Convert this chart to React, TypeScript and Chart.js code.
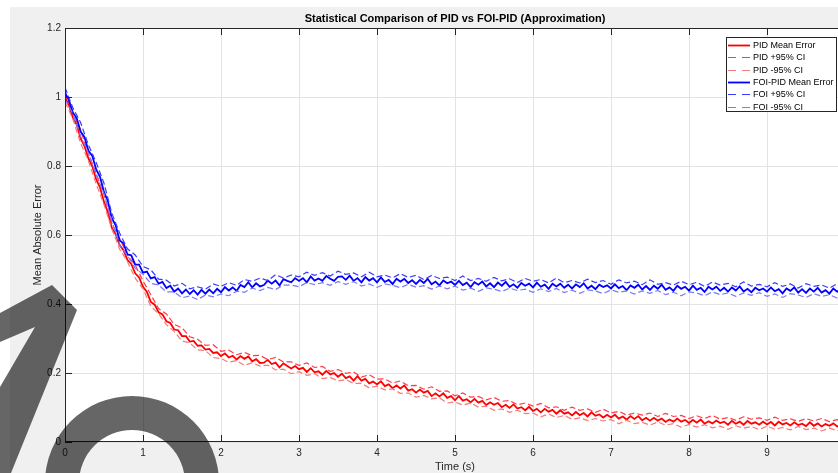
import React, { useEffect, useRef } from 'react';
import { Chart, registerables } from 'chart.js';

Chart.register(...registerables);

const FONT = '"Liberation Sans", Arial, Helvetica, sans-serif';

const chartTitle = 'Statistical Comparison of PID vs FOI-PID (Approximation)';
const xTitle = 'Time (s)';
const yTitle = 'Mean Absolute Error';
const seriesLabels = ['PID Mean Error', 'PID +95% CI', 'PID -95% CI', 'FOI-PID Mean Error', 'FOI +95% CI', 'FOI -95% CI'];
const xTickValues = [0, 1, 2, 3, 4, 5, 6, 7, 8, 9, 10];
const yTickValues = [0, 0.2, 0.4, 0.6, 0.8, 1, 1.2];

// time samples: mean curves every 0.05 s, confidence bounds every 0.1 s
const tFine = Array.from({ length: 201 }, (_, i) => Math.round(i * 5) / 100);
const tCoarse = Array.from({ length: 101 }, (_, i) => i / 10);

const pidMean = [
  1.000, 0.976, 0.941, 0.920, 0.880, 0.858, 0.822, 0.799, 0.761, 0.737,
  0.696, 0.666, 0.621, 0.602, 0.571, 0.556, 0.528, 0.516, 0.489, 0.477,
  0.450, 0.435, 0.406, 0.398, 0.376, 0.370, 0.350, 0.345, 0.326, 0.324,
  0.307, 0.307, 0.291, 0.293, 0.279, 0.280, 0.268, 0.270, 0.258, 0.260,
  0.249,
  0.257, 0.245, 0.250, 0.239, 0.249, 0.241, 0.248, 0.234, 0.240, 0.229,
  0.230, 0.238, 0.226, 0.230, 0.216, 0.228, 0.220, 0.213, 0.220, 0.211,
  0.215, 0.203, 0.214, 0.202, 0.205, 0.195, 0.206, 0.196, 0.200, 0.189,
  0.198, 0.185, 0.190, 0.178, 0.191, 0.178, 0.183, 0.170, 0.175, 0.167,
  0.176, 0.162, 0.167, 0.156, 0.164, 0.155, 0.164, 0.149, 0.153, 0.143,
  0.152, 0.143, 0.148, 0.133, 0.141, 0.132, 0.141, 0.128, 0.133, 0.121,
  0.133, 0.120, 0.124, 0.115, 0.125, 0.114, 0.119, 0.107, 0.115, 0.108,
  0.113, 0.101, 0.108, 0.099, 0.109, 0.097, 0.101, 0.092, 0.102, 0.090,
  0.096, 0.086, 0.096, 0.088, 0.093, 0.082, 0.092, 0.082, 0.086, 0.077,
  0.087, 0.078, 0.084, 0.074, 0.086, 0.076, 0.080, 0.071, 0.079, 0.071,
  0.079, 0.068, 0.074, 0.065, 0.075, 0.067, 0.075, 0.063, 0.070, 0.062,
  0.070, 0.062, 0.068, 0.058, 0.065, 0.059, 0.068, 0.059, 0.064, 0.055,
  0.064, 0.056, 0.065, 0.053, 0.060, 0.054, 0.062, 0.055, 0.059, 0.050,
  0.061, 0.053, 0.059, 0.050, 0.061, 0.053, 0.057, 0.050, 0.059, 0.051,
  0.058, 0.048, 0.059, 0.051, 0.055, 0.048, 0.057, 0.049, 0.053, 0.046,
  0.057, 0.047, 0.054, 0.045, 0.052, 0.047, 0.054, 0.045, 0.050, 0.045,
];

const pidUpper = [
  1.016, 0.954, 0.904, 0.836, 0.778, 0.718, 0.633, 0.590, 0.542, 0.513,
  0.467, 0.427, 0.387, 0.371, 0.341, 0.331, 0.305, 0.298, 0.280, 0.282,
  0.263, 0.266, 0.253, 0.260, 0.250, 0.251, 0.239, 0.245, 0.232, 0.232,
  0.222, 0.229, 0.216, 0.219, 0.205, 0.210, 0.199, 0.203, 0.188, 0.195,
  0.182, 0.183, 0.171, 0.177, 0.163, 0.164, 0.153, 0.160, 0.147, 0.148,
  0.134, 0.142, 0.130, 0.132, 0.122, 0.129, 0.118, 0.120, 0.108, 0.113,
  0.104, 0.112, 0.099, 0.102, 0.092, 0.101, 0.092, 0.096, 0.086, 0.095,
  0.084, 0.089, 0.078, 0.084, 0.078, 0.084, 0.074, 0.083, 0.074, 0.077,
  0.068, 0.076, 0.068, 0.077, 0.066, 0.071, 0.063, 0.073, 0.066, 0.070,
  0.063, 0.072, 0.063, 0.067, 0.060, 0.068, 0.061, 0.068, 0.059, 0.065,
  0.057,
];

const pidLower = [
  0.985, 0.937, 0.866, 0.815, 0.748, 0.688, 0.618, 0.559, 0.523, 0.475,
  0.444, 0.393, 0.372, 0.340, 0.320, 0.293, 0.287, 0.267, 0.265, 0.245,
  0.242, 0.231, 0.236, 0.222, 0.230, 0.220, 0.223, 0.209, 0.211, 0.198,
  0.204, 0.193, 0.198, 0.184, 0.187, 0.177, 0.181, 0.170, 0.170, 0.157,
  0.162, 0.151, 0.154, 0.141, 0.142, 0.130, 0.135, 0.125, 0.128, 0.113,
  0.116, 0.107, 0.113, 0.101, 0.104, 0.092, 0.096, 0.086, 0.092, 0.082,
  0.084, 0.073, 0.081, 0.071, 0.077, 0.066, 0.070, 0.062, 0.068, 0.061,
  0.065, 0.053, 0.063, 0.053, 0.057, 0.049, 0.058, 0.049, 0.053, 0.043,
  0.051, 0.043, 0.050, 0.041, 0.046, 0.037, 0.047, 0.040, 0.045, 0.036,
  0.046, 0.037, 0.042, 0.035, 0.045, 0.036, 0.040, 0.032, 0.040, 0.033,
  0.037,
];

const foiMean = [
  1.012, 0.991, 0.955, 0.939, 0.900, 0.884, 0.844, 0.829, 0.790, 0.768,
  0.724, 0.698, 0.649, 0.628, 0.584, 0.576, 0.544, 0.541, 0.514, 0.514,
  0.491, 0.494, 0.474, 0.478, 0.459, 0.464, 0.446, 0.453, 0.436, 0.445,
  0.431, 0.442, 0.429, 0.440, 0.427, 0.441, 0.430, 0.442, 0.431, 0.444,
  0.434,
  0.449, 0.439, 0.448, 0.438, 0.455, 0.449, 0.463, 0.448, 0.460, 0.451,
  0.455, 0.468, 0.459, 0.468, 0.454, 0.472, 0.467, 0.463, 0.475, 0.467,
  0.475, 0.463, 0.480, 0.468, 0.474, 0.467, 0.481, 0.473, 0.467, 0.479,
  0.480, 0.470, 0.482, 0.467, 0.475, 0.463, 0.478, 0.468, 0.475, 0.463,
  0.477, 0.464, 0.470, 0.458, 0.473, 0.465, 0.473, 0.461, 0.469, 0.458,
  0.470, 0.461, 0.473, 0.457, 0.465, 0.454, 0.468, 0.460, 0.465, 0.455,
  0.467, 0.455, 0.462, 0.449, 0.463, 0.456, 0.465, 0.451, 0.460, 0.449,
  0.462, 0.453, 0.464, 0.450, 0.457, 0.447, 0.461, 0.453, 0.459, 0.448,
  0.462, 0.450, 0.456, 0.444, 0.459, 0.451, 0.459, 0.447, 0.456, 0.445,
  0.457, 0.449, 0.460, 0.445, 0.453, 0.443, 0.456, 0.449, 0.454, 0.445,
  0.457, 0.446, 0.452, 0.440, 0.454, 0.447, 0.456, 0.442, 0.452, 0.441,
  0.453, 0.444, 0.456, 0.441, 0.448, 0.438, 0.453, 0.444, 0.450, 0.439,
  0.453, 0.441, 0.447, 0.435, 0.450, 0.442, 0.450, 0.438, 0.447, 0.436,
  0.448, 0.439, 0.451, 0.436, 0.444, 0.434, 0.447, 0.440, 0.445, 0.436,
  0.448, 0.437, 0.443, 0.431, 0.445, 0.438, 0.448, 0.433, 0.443, 0.432,
  0.445, 0.436, 0.447, 0.433, 0.440, 0.430, 0.445, 0.436, 0.442, 0.431,
];

const foiUpper = [
  1.028, 0.969, 0.926, 0.861, 0.810, 0.750, 0.663, 0.606, 0.560, 0.542,
  0.509, 0.499, 0.472, 0.469, 0.452, 0.460, 0.444, 0.450, 0.443, 0.458,
  0.451, 0.462, 0.454, 0.471, 0.466, 0.475, 0.468, 0.485, 0.475, 0.484,
  0.479, 0.492, 0.483, 0.491, 0.481, 0.495, 0.486, 0.490, 0.479, 0.492,
  0.479, 0.484, 0.476, 0.488, 0.477, 0.483, 0.471, 0.483, 0.474, 0.478,
  0.468, 0.481, 0.468, 0.474, 0.466, 0.477, 0.467, 0.473, 0.462, 0.474,
  0.466, 0.471, 0.461, 0.475, 0.462, 0.468, 0.461, 0.472, 0.462, 0.468,
  0.457, 0.470, 0.461, 0.466, 0.456, 0.470, 0.457, 0.462, 0.455, 0.466,
  0.456, 0.463, 0.451, 0.464, 0.455, 0.460, 0.450, 0.464, 0.452, 0.457,
  0.450, 0.462, 0.451, 0.458, 0.446, 0.459, 0.451, 0.455, 0.446, 0.459,
  0.447,
];

const foiLower = [
  0.993, 0.952, 0.886, 0.838, 0.774, 0.720, 0.642, 0.570, 0.541, 0.504,
  0.486, 0.460, 0.455, 0.435, 0.435, 0.418, 0.423, 0.413, 0.426, 0.421,
  0.429, 0.424, 0.437, 0.434, 0.446, 0.439, 0.448, 0.442, 0.455, 0.455,
  0.450, 0.462, 0.456, 0.462, 0.454, 0.465, 0.457, 0.465, 0.452, 0.458,
  0.448, 0.458, 0.454, 0.447, 0.457, 0.449, 0.453, 0.443, 0.452, 0.444,
  0.452, 0.440, 0.446, 0.437, 0.447, 0.443, 0.436, 0.446, 0.439, 0.443,
  0.434, 0.444, 0.436, 0.445, 0.433, 0.440, 0.431, 0.441, 0.438, 0.430,
  0.441, 0.434, 0.438, 0.429, 0.438, 0.431, 0.439, 0.427, 0.434, 0.424,
  0.435, 0.432, 0.424, 0.435, 0.427, 0.432, 0.422, 0.432, 0.425, 0.433,
  0.422, 0.429, 0.419, 0.430, 0.426, 0.419, 0.430, 0.422, 0.427, 0.417,
  0.427,
];

const toPoints = (t: number[], v: number[]) => v.map((y, i) => ({ x: t[i], y }));

const decorPlugin = {
  id: 'matlabDecor',
  beforeDraw(chart: any) {
    const { ctx, chartArea: a } = chart;
    ctx.save();
    ctx.fillStyle = '#ffffff';
    ctx.fillRect(0, 0, chart.width, chart.height);
    ctx.fillStyle = '#f0f0f0';
    ctx.fillRect(10, 7, chart.width - 10, chart.height - 7);
    ctx.fillStyle = '#ffffff';
    ctx.fillRect(a.left, a.top, a.right - a.left, a.bottom - a.top);
    ctx.restore();
  },
  afterDatasetsDraw(chart: any) {
    const { ctx, chartArea: a, scales } = chart;
    const xs = scales.x;
    const ys = scales.y;
    ctx.save();
    ctx.strokeStyle = '#262626';
    ctx.lineWidth = 1;
    ctx.beginPath();
    ctx.moveTo(a.left + 0.5, a.top + 0.5);
    ctx.lineTo(a.right - 0.5, a.top + 0.5);
    ctx.lineTo(a.right - 0.5, a.bottom - 0.5);
    ctx.lineTo(a.left + 0.5, a.bottom - 0.5);
    ctx.closePath();
    ctx.stroke();
    const tl = 7;
    ctx.beginPath();
    xTickValues.forEach((v) => {
      const px = Math.round(xs.getPixelForValue(v)) + 0.5;
      ctx.moveTo(px, a.bottom);
      ctx.lineTo(px, a.bottom - tl);
      ctx.moveTo(px, a.top);
      ctx.lineTo(px, a.top + tl);
    });
    yTickValues.forEach((v) => {
      const py = Math.round(ys.getPixelForValue(v)) + 0.5;
      ctx.moveTo(a.left, py);
      ctx.lineTo(a.left + tl, py);
      ctx.moveTo(a.right, py);
      ctx.lineTo(a.right - tl, py);
    });
    ctx.stroke();
    ctx.restore();
  },
  afterDraw(chart: any) {
    const { ctx, chartArea: a } = chart;
    const cx = (a.left + a.right) / 2;
    ctx.save();
    // title
    ctx.fillStyle = '#000000';
    ctx.font = `bold 11px ${FONT}`;
    ctx.textAlign = 'center';
    ctx.textBaseline = 'middle';
    ctx.fillText(chartTitle, cx, 19);
    // axis titles
    ctx.fillStyle = '#262626';
    ctx.font = `11px ${FONT}`;
    ctx.fillText(xTitle, cx, 467);
    ctx.save();
    ctx.translate(38, (a.top + a.bottom) / 2);
    ctx.rotate(-Math.PI / 2);
    ctx.fillText(yTitle, 0, 0);
    ctx.restore();

    // legend box
    const lx = 726;
    const ly = 37;
    const lw = 111;
    const lh = 75;
    ctx.fillStyle = '#ffffff';
    ctx.fillRect(lx, ly, lw, lh);
    ctx.strokeStyle = '#262626';
    ctx.lineWidth = 1;
    ctx.strokeRect(lx + 0.5, ly + 0.5, lw - 1, lh - 1);
    chart.data.datasets.forEach((ds: any, i: number) => {
      const yy = Math.round(ly + 8 + i * 12.3) + 0.5;
      ctx.save();
      ctx.setLineDash(ds.borderDash ? [8, 6] : []);
      ctx.strokeStyle = ds.borderColor;
      ctx.lineWidth = ds.borderDash ? 1.2 : 1.8;
      ctx.beginPath();
      ctx.moveTo(lx + 2, yy);
      ctx.lineTo(lx + 24, yy);
      ctx.stroke();
      ctx.restore();
      ctx.fillStyle = '#000000';
      ctx.font = `9px ${FONT}`;
      ctx.textAlign = 'left';
      ctx.textBaseline = 'middle';
      ctx.fillText(ds.label, lx + 27, yy);
    });

    // dark overlay shapes present in the reference image
    ctx.fillStyle = 'rgba(0,0,0,0.6)';
    ctx.beginPath();
    ctx.moveTo(0, 313);
    ctx.lineTo(52, 285);
    ctx.lineTo(77, 310);
    ctx.lineTo(11, 473);
    ctx.lineTo(0, 473);
    ctx.lineTo(0, 387);
    ctx.lineTo(35, 327);
    ctx.lineTo(0, 342);
    ctx.closePath();
    ctx.fill();
    ctx.beginPath();
    ctx.arc(132, 483, 87, 0, Math.PI * 2);
    ctx.moveTo(132 + 53, 483);
    ctx.arc(132, 483, 53, 0, Math.PI * 2);
    ctx.fill('evenodd');
    ctx.restore();
  },
};

const fmtTick = (v: any) => String(Math.round(Number(v) * 10) / 10);

export default function App() {
  const ref = useRef<HTMLCanvasElement>(null);

  useEffect(() => {
    const canvas = ref.current;
    if (!canvas) return;
    const chart = new Chart(canvas, {
      type: 'line',
      data: {
        datasets: [
          { label: seriesLabels[0], data: toPoints(tFine, pidMean), borderColor: '#ff0000', borderWidth: 1.8, order: 6 },
          { label: seriesLabels[1], data: toPoints(tCoarse, pidUpper), borderColor: '#ff3a4a', borderWidth: 1.2, borderDash: [6, 3], order: 5 },
          { label: seriesLabels[2], data: toPoints(tCoarse, pidLower), borderColor: '#f57a7a', borderWidth: 1.2, borderDash: [6, 3], order: 4 },
          { label: seriesLabels[3], data: toPoints(tFine, foiMean), borderColor: '#0000ff', borderWidth: 1.8, order: 3 },
          { label: seriesLabels[4], data: toPoints(tCoarse, foiUpper), borderColor: '#3a3aff', borderWidth: 1.2, borderDash: [6, 3], order: 2 },
          { label: seriesLabels[5], data: toPoints(tCoarse, foiLower), borderColor: '#7a7af5', borderWidth: 1.2, borderDash: [6, 3], order: 1 },
        ] as any,
      },
      options: {
        animation: false,
        responsive: false,
        devicePixelRatio: 1,
        layout: { padding: { left: 0, right: 1, top: 28, bottom: 0 } },
        plugins: {
          legend: { display: false },
          title: { display: false },
          tooltip: { enabled: false },
        },
        elements: {
          point: { radius: 0, hoverRadius: 0 },
          line: { tension: 0, fill: false },
        },
        scales: {
          x: {
            type: 'linear',
            min: 0,
            max: 10,
            ticks: {
              stepSize: 1,
              padding: 5,
              color: '#262626',
              font: { family: FONT, size: 10 },
              maxRotation: 0,
              autoSkip: false,
              callback: fmtTick,
            },
            grid: { color: '#e3e3e3', drawTicks: false, lineWidth: 1 },
            border: { display: false },
            afterFit: (s: any) => {
              s.height = 31;
              s.paddingLeft = 0;
              s.paddingRight = 0;
            },
          },
          y: {
            type: 'linear',
            min: 0,
            max: 1.2,
            ticks: {
              stepSize: 0.2,
              padding: 4,
              color: '#262626',
              font: { family: FONT, size: 10 },
              callback: fmtTick,
            },
            grid: { color: '#e3e3e3', drawTicks: false, lineWidth: 1 },
            border: { display: false },
            afterFit: (s: any) => {
              s.width = 65;
              s.paddingTop = 0;
              s.paddingBottom = 0;
            },
          },
        },
      } as any,
      plugins: [decorPlugin],
    });
    return () => chart.destroy();
  }, []);

  return (
    <div
      style={{
        position: 'fixed',
        left: 0,
        top: 0,
        width: 838,
        height: 473,
        overflow: 'hidden',
        background: '#ffffff',
      }}
    >
      <canvas ref={ref} width={846} height={473} style={{ display: 'block', width: 846, height: 473 }} />
    </div>
  );
}
